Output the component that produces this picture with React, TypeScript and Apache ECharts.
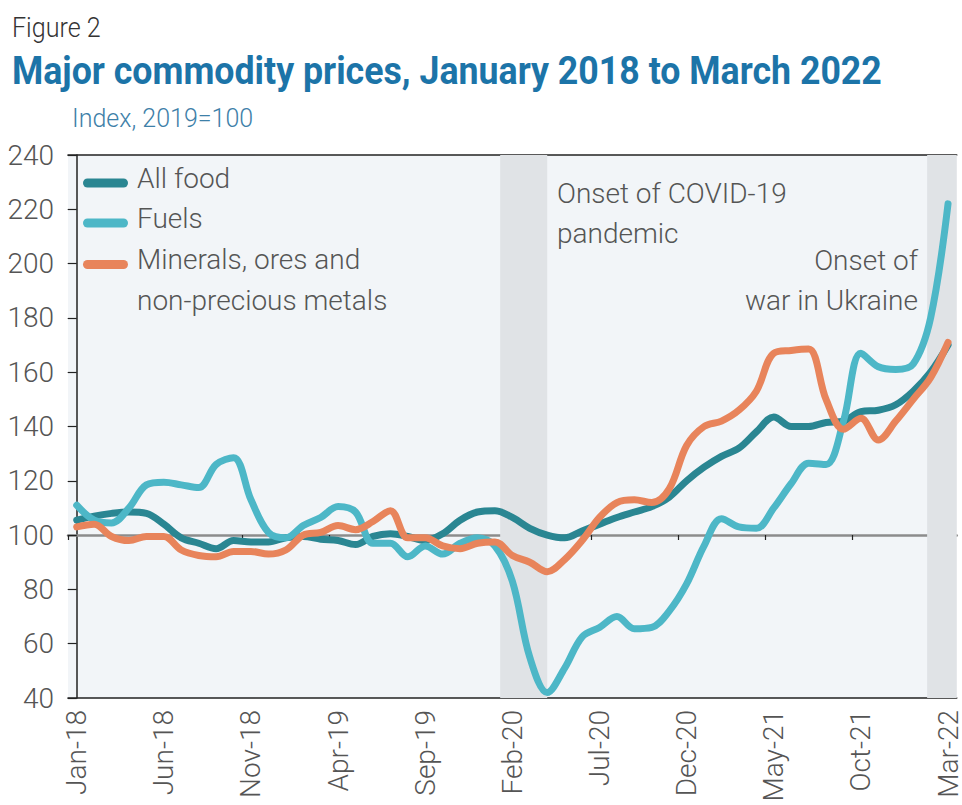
import React, { useEffect, useRef } from 'react';
import * as echarts from 'echarts';

const months = [
  'Jan-18', 'Feb-18', 'Mar-18', 'Apr-18', 'May-18', 'Jun-18', 'Jul-18', 'Aug-18', 'Sep-18', 'Oct-18', 'Nov-18', 'Dec-18',
  'Jan-19', 'Feb-19', 'Mar-19', 'Apr-19', 'May-19', 'Jun-19', 'Jul-19', 'Aug-19', 'Sep-19', 'Oct-19', 'Nov-19', 'Dec-19',
  'Jan-20', 'Feb-20', 'Mar-20', 'Apr-20', 'May-20', 'Jun-20', 'Jul-20', 'Aug-20', 'Sep-20', 'Oct-20', 'Nov-20', 'Dec-20',
  'Jan-21', 'Feb-21', 'Mar-21', 'Apr-21', 'May-21', 'Jun-21', 'Jul-21', 'Aug-21', 'Sep-21', 'Oct-21', 'Nov-21', 'Dec-21',
  'Jan-22', 'Feb-22', 'Mar-22',
];
// month boundaries (start of each month), used for the tick marks on the 100 line
const monthStarts = [...months, 'Apr-22'];

const allFood = [
  105.5, 107, 108, 108.5, 108, 104, 99, 97, 95, 98, 97.5, 97.5,
  99, 99.5, 98.5, 98, 96.5, 99.5, 100.5, 99.5, 98, 100.5, 105.5, 108.5,
  109, 106.5, 102.5, 100, 99, 101.5, 104, 106.5, 108.5, 110.5, 114, 120,
  125, 129, 132, 138, 143.5, 140, 140, 141.5, 142, 145.5, 146, 148,
  153, 160, 170,
];

const fuels = [
  111, 105.5, 104.5, 110, 118.5, 119.5, 118.5, 117.5, 126, 128.5, 113, 101,
  99, 103.5, 106.5, 110.5, 108.5, 97, 97, 92, 96, 93, 97, 99,
  96, 83, 55, 42, 51, 62.5, 66, 70, 65.5, 66, 72, 82,
  96, 106, 103, 102.5, 110, 119, 126.5, 126, 142, 167, 162, 161,
  163, 180, 222,
];

const minerals = [
  103, 104, 99.5, 98, 99.5, 99.5, 94.5, 92.5, 92, 94, 94, 93,
  94.5, 100, 101, 103.5, 102, 105, 109, 99, 99, 96, 95, 97,
  97.5, 92.5, 90, 86.5, 91, 98, 106.5, 112, 113, 112, 117, 133,
  140, 142, 146, 153, 167, 168, 168.5, 150, 139, 143, 135, 142,
  150, 158, 171,
];

// shaded periods, in month-index units (0 = Jan-18)
const covidPeriod = [24.3, 27.0];
const ukrainePeriod = [48.8, 50.5];

const seriesNames = ['All food', 'Fuels', 'Minerals, ores and non-precious metals'];
const seriesColors = ['#2A8692', '#4DB7C7', '#E8845B'];

const FONT = 'Roboto, "Noto Sans", sans-serif';
const PILL = 'path://M4.5 0H40.5A4.5 4.5 0 0 1 40.5 9H4.5A4.5 4.5 0 0 1 4.5 0Z';

export default function App() {
  const ref = useRef<HTMLDivElement>(null);

  useEffect(() => {
    if (!ref.current) return;
    const chart = echarts.init(ref.current, null, { renderer: 'svg' });
    const toXY = (arr: number[]) => arr.map((v, i) => [i, v]);
    const lineSeries = [allFood, fuels, minerals].map((arr, k) => ({
      name: seriesNames[k],
      type: 'line',
      xAxisIndex: 2,
      yAxisIndex: 0,
      data: toXY(arr),
      smooth: 0.35,
      showSymbol: false,
      color: seriesColors[k],
      lineStyle: { width: 7, color: seriesColors[k], cap: 'round', join: 'round' },
      z: 3 + k,
    }));

    const txt = { fontFamily: FONT, fontSize: 28, fontWeight: 300, color: '#555' };
    const legendBase = {
      orient: 'vertical',
      left: 83,
      padding: 0,
      itemWidth: 45,
      itemHeight: 9,
      icon: PILL,
      itemStyle: { borderWidth: 0 },
      selectedMode: false,
    };

    chart.setOption({
      animation: false,
      backgroundColor: '#ffffff',
      grid: {
        left: 68,
        right: 2,
        top: 155,
        bottom: 107,
        show: true,
        backgroundColor: '#F2F5F8',
        borderWidth: 0,
        containLabel: false,
      },
      legend: [
        {
          ...legendBase,
          top: 164,
          itemGap: 2,
          data: [seriesNames[0], seriesNames[1]],
          formatter: (name: string) => `{t|${name}}`,
          textStyle: {
            ...txt,
            rich: { t: { ...txt, lineHeight: 30, padding: [0, 0, 10, 4] } },
          },
        },
        {
          ...legendBase,
          top: 223.5,
          itemGap: 0,
          data: [seriesNames[2]],
          formatter: () => '{b| }\n{t|Minerals, ores and}\n{u|non-precious metals}',
          textStyle: {
            ...txt,
            rich: {
              b: { fontSize: 10, lineHeight: 31 },
              t: { ...txt, lineHeight: 41, padding: [0, 0, 10, 4] },
              u: { ...txt, lineHeight: 31, padding: [0, 0, 0, 4] },
            },
          },
        },
      ],
      xAxis: [
        {
          type: 'category',
          data: months,
          boundaryGap: true,
          position: 'bottom',
          axisLine: { show: true, lineStyle: { color: '#222', width: 1.5 } },
          axisTick: { show: false },
          axisLabel: {
            interval: 4, rotate: 90, margin: 12,
            fontFamily: FONT, fontSize: 28, fontWeight: 300, color: '#555',
          },
          splitLine: { show: false },
        },
        {
          type: 'category',
          data: monthStarts,
          boundaryGap: false,
          position: 'bottom',
          offset: -163,
          axisLine: { show: true, lineStyle: { color: '#8C8C8C', width: 2.5 } },
          axisTick: { show: true, interval: 4, length: 5, inside: false, lineStyle: { color: '#222', width: 1.2 } },
          axisLabel: { show: false, interval: 4, showMinLabel: false, showMaxLabel: false },
          splitLine: { show: false },
        },
        {
          type: 'value',
          min: -0.5,
          max: 50.5,
          position: 'top',
          axisLine: { show: true, lineStyle: { color: '#222', width: 1.5 } },
          axisTick: { show: false },
          axisLabel: { show: false },
          splitLine: { show: false },
        },
      ],
      yAxis: {
        type: 'value',
        min: 40,
        max: 240,
        interval: 20,
        axisLine: { show: true, lineStyle: { color: '#222', width: 1.5 } },
        axisTick: { show: true, length: 9, lineStyle: { color: '#222', width: 1.2 } },
        axisLabel: { margin: 14, fontFamily: FONT, fontSize: 28, fontWeight: 300, color: '#555' },
        splitLine: { show: false },
      },
      series: [
        {
          name: 'shading',
          type: 'line',
          xAxisIndex: 2,
          yAxisIndex: 0,
          data: [],
          z: 1,
          silent: true,
          markArea: {
            silent: true,
            itemStyle: { color: '#E0E3E6' },
            data: [
              [{ xAxis: covidPeriod[0] }, { xAxis: covidPeriod[1] }],
              [{ xAxis: ukrainePeriod[0] }, { xAxis: ukrainePeriod[1] }],
            ],
          },
        },
        ...lineSeries,
      ],
      graphic: [
        {
          type: 'text', x: 12, y: 27.5, scaleX: 0.93,
          style: { text: 'Figure 2', fontFamily: FONT, fontSize: 27, fontWeight: 300, fill: '#333', verticalAlign: 'middle', align: 'left' },
        },
        {
          type: 'text', x: 12, y: 71, scaleX: 0.94,
          style: { text: 'Major commodity prices, January 2018 to March 2022', fontFamily: FONT, fontSize: 38, fontWeight: 'bold', fill: '#1C74A8', verticalAlign: 'middle', align: 'left' },
        },
        {
          type: 'text', x: 72, y: 118.5,
          style: { text: 'Index, 2019=100', fontFamily: FONT, fontSize: 25, fontWeight: 300, fill: '#3E80A8', verticalAlign: 'middle', align: 'left' },
        },
        {
          type: 'text', x: 557, y: 173, z: 10,
          style: { text: 'Onset of COVID-19\npandemic', fontFamily: FONT, fontSize: 28, fontWeight: 300, fill: '#555', lineHeight: 40, verticalAlign: 'top', align: 'left' },
        },
        {
          type: 'text', x: 918, y: 240, z: 10,
          style: { text: 'Onset of\nwar in Ukraine', fontFamily: FONT, fontSize: 28, fontWeight: 300, fill: '#555', lineHeight: 40, verticalAlign: 'top', align: 'right' },
        },
      ],
    });
    return () => chart.dispose();
  }, []);

  return (
    <div
      ref={ref}
      style={{ position: 'absolute', left: 0, top: 0, width: 962, height: 805, background: '#fff' }}
    />
  );
}
